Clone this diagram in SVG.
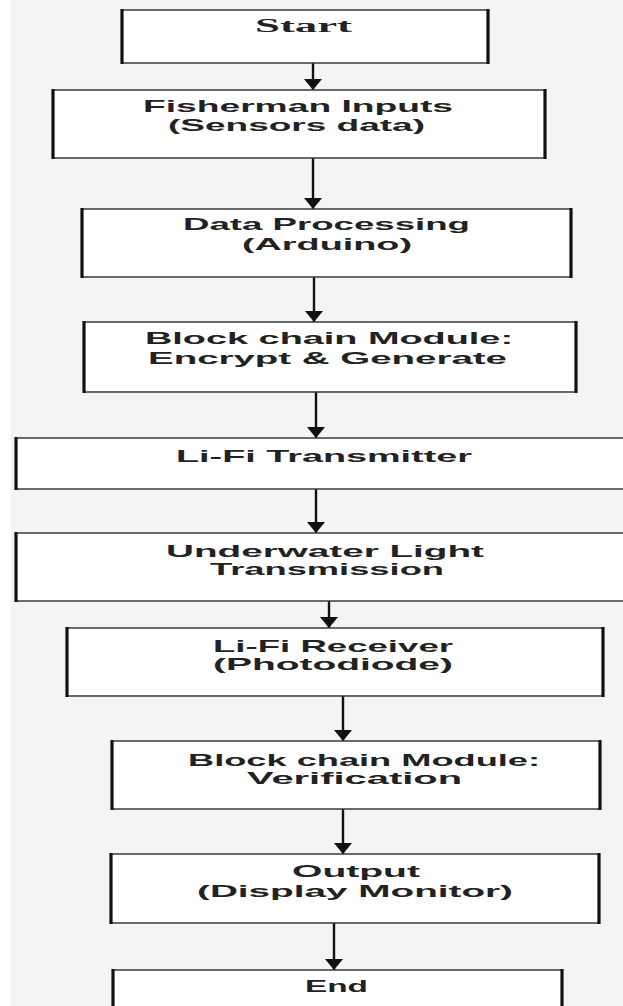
<svg xmlns="http://www.w3.org/2000/svg" width="623" height="1006" viewBox="0 0 623 1006">
<defs>
<marker id="ah" viewBox="0 0 11 18" refX="11" refY="9" markerWidth="11" markerHeight="18" markerUnits="userSpaceOnUse" orient="auto">
<path d="M0,0 L11,9 L0,18 z" fill="#111"/>
</marker>
<style>
.box{fill:#fff;stroke:#3a3a3a;stroke-width:1.5}
.edge{stroke:#111;stroke-width:3.2}
.t{font-family:"Liberation Sans",Arial,sans-serif;font-weight:bold;font-size:17px;fill:#222}
.s{font-family:"Liberation Serif","Times New Roman",serif;font-weight:bold;font-size:18px;fill:#222}
.c{stroke:#111;stroke-width:2.4;fill:none;marker-end:url(#ah)}
</style>
</defs>
<rect x="0" y="0" width="623" height="1006" fill="#f4f4f4"/>
<rect x="0" y="0" width="11" height="1006" fill="#fff"/>

<g id="connectors">
<line class="c" x1="313" y1="63" x2="313" y2="90"/>
<line class="c" x1="313" y1="158" x2="313" y2="209"/>
<line class="c" x1="314" y1="277" x2="314" y2="322"/>
<line class="c" x1="316" y1="392" x2="316" y2="438"/>
<line class="c" x1="316" y1="489" x2="316" y2="533"/>
<line class="c" x1="329" y1="601" x2="329" y2="628"/>
<line class="c" x1="343" y1="696" x2="343" y2="741"/>
<line class="c" x1="343" y1="809" x2="343" y2="854"/>
<line class="c" x1="334" y1="923" x2="334" y2="970"/>
</g>

<g id="start">
<rect class="box" x="122" y="10" width="366" height="53"/>
<line class="edge" x1="122" y1="9" x2="122" y2="64"/>
<line class="edge" x1="488" y1="9" x2="488" y2="64"/>
<text class="s" x="255" y="32" textLength="97" lengthAdjust="spacingAndGlyphs">Start</text>
</g>

<g id="fisherman">
<rect class="box" x="53" y="90" width="492" height="68"/>
<line class="edge" x1="53" y1="89" x2="53" y2="159"/>
<line class="edge" x1="545" y1="89" x2="545" y2="159"/>
<text class="t" x="143" y="112" textLength="310" lengthAdjust="spacingAndGlyphs">Fisherman Inputs</text>
<text class="t" x="168" y="131" textLength="257" lengthAdjust="spacingAndGlyphs">(Sensors data)</text>
</g>

<g id="processing">
<rect class="box" x="82" y="209" width="489" height="68"/>
<line class="edge" x1="82" y1="208" x2="82" y2="278"/>
<line class="edge" x1="571" y1="208" x2="571" y2="278"/>
<text class="t" x="183" y="230" textLength="287" lengthAdjust="spacingAndGlyphs">Data Processing</text>
<text class="t" x="242" y="250" textLength="170" lengthAdjust="spacingAndGlyphs">(Arduino)</text>
</g>

<g id="encrypt">
<rect class="box" x="84" y="322" width="492" height="70"/>
<line class="edge" x1="84" y1="321" x2="84" y2="393"/>
<line class="edge" x1="576" y1="321" x2="576" y2="393"/>
<text class="t" x="145" y="344" textLength="368" lengthAdjust="spacingAndGlyphs">Block chain Module:</text>
<text class="t" x="148" y="364" textLength="359" lengthAdjust="spacingAndGlyphs">Encrypt &amp; Generate</text>
</g>

<g id="transmitter">
<rect class="box" x="16" y="438" width="630" height="51"/>
<line class="edge" x1="16" y1="437" x2="16" y2="490"/>
<text class="t" x="176" y="462" textLength="296" lengthAdjust="spacingAndGlyphs">Li-Fi Transmitter</text>
</g>

<g id="underwater">
<rect class="box" x="16" y="533" width="630" height="68"/>
<line class="edge" x1="16" y1="532" x2="16" y2="602"/>
<text class="t" x="166" y="557" textLength="318" lengthAdjust="spacingAndGlyphs">Underwater Light</text>
<text class="t" x="210" y="575" textLength="234" lengthAdjust="spacingAndGlyphs">Transmission</text>
</g>

<g id="receiver">
<rect class="box" x="67" y="628" width="536" height="68"/>
<line class="edge" x1="67" y1="627" x2="67" y2="697"/>
<line class="edge" x1="603" y1="627" x2="603" y2="697"/>
<text class="t" x="213" y="652" textLength="240" lengthAdjust="spacingAndGlyphs">Li-Fi Receiver</text>
<text class="t" x="213" y="670" textLength="240" lengthAdjust="spacingAndGlyphs">(Photodiode)</text>
</g>

<g id="verification">
<rect class="box" x="112" y="741" width="488" height="68"/>
<line class="edge" x1="112" y1="740" x2="112" y2="810"/>
<line class="edge" x1="600" y1="740" x2="600" y2="810"/>
<text class="t" x="188" y="766" textLength="352" lengthAdjust="spacingAndGlyphs">Block chain Module:</text>
<text class="t" x="247" y="784" textLength="215" lengthAdjust="spacingAndGlyphs">Verification</text>
</g>

<g id="output">
<rect class="box" x="111" y="854" width="488" height="69"/>
<line class="edge" x1="111" y1="853" x2="111" y2="924"/>
<line class="edge" x1="599" y1="853" x2="599" y2="924"/>
<text class="t" x="292" y="877" textLength="128" lengthAdjust="spacingAndGlyphs">Output</text>
<text class="t" x="197" y="897" textLength="316" lengthAdjust="spacingAndGlyphs">(Display Monitor)</text>
</g>

<g id="end">
<rect class="box" x="113" y="970" width="449" height="50"/>
<line class="edge" x1="113" y1="969" x2="113" y2="1010"/>
<line class="edge" x1="562" y1="969" x2="562" y2="1010"/>
<text class="t" x="305" y="992" textLength="63" lengthAdjust="spacingAndGlyphs">End</text>
</g>
</svg>
